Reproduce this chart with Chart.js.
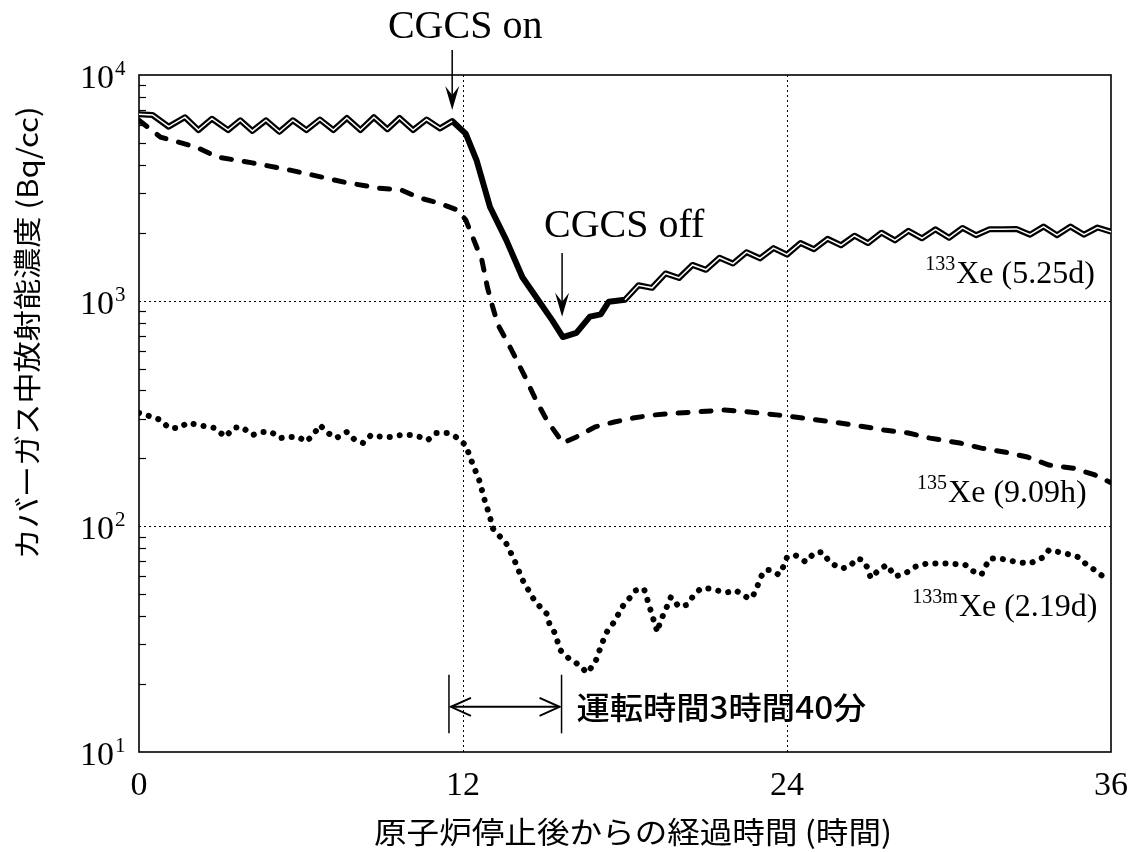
<!DOCTYPE html>
<html>
<head>
<meta charset="utf-8">
<script src="https://cdn.jsdelivr.net/npm/chart.js@4.4.1/dist/chart.umd.min.js"></script>
<style>
  body { margin: 0; background: #fff; }
  #wrap { width: 1128px; height: 852px; }
</style>
</head>
<body>
<div id="wrap"><canvas id="xe-chart" width="1128" height="852"></canvas></div>
<script>
// 133Xe (solid line)
const hours133 = [0, 0.5, 1.1, 1.7, 2.2, 2.7, 3.3, 3.75, 4.2, 4.7, 5.2, 5.7, 6.2, 6.7, 7.2, 7.7, 8.2, 8.7, 9.2, 9.65,
    10.15, 10.65, 11.15, 11.6, 12.1, 12.5, 13.0, 13.6, 14.2, 14.7, 15.3, 15.7, 16.2, 16.7, 17.1, 17.4, 18.0,
    18.5, 19.0, 19.5, 20.0, 20.5, 21.0, 21.5, 22.0, 22.5, 23.0, 23.5, 24.0, 24.5, 25.0, 25.5, 26.0, 26.5, 27.0,
    27.5, 28.0, 28.5, 29.0, 29.5, 30.0, 30.5, 31.0, 31.5, 32.0, 32.5, 33.0, 33.5, 34.0, 34.5, 35.0, 35.5, 36.0];
const xe133 = [6700, 6650, 5900, 6500, 5700, 6400, 5700, 6300, 5650, 6300, 5600, 6300, 5700, 6350, 5700, 6450, 5700, 6500, 5750, 6450,
    5700, 6350, 5800, 6250, 5500, 4200, 2600, 1860, 1270, 1040, 820, 690, 720, 850, 870, 990, 1010,
    1170, 1140, 1320, 1260, 1440, 1370, 1550, 1460, 1640, 1540, 1710, 1600, 1800, 1690, 1880, 1760, 1940, 1800,
    2000, 1850, 2040, 1890, 2070, 1900, 2100, 1950, 2070, 2070, 2080, 1960, 2130, 1950, 2130, 1960, 2110, 2020];

// 135Xe (dashed line)
const hours135 = [0, 0.8, 2.1, 2.9, 4.2, 5.6, 6.9, 7.6, 8.9, 9.7, 10.4, 11.1, 11.8, 12.1, 12.4, 12.7, 12.9, 13.1, 13.3,
    13.8, 14.3, 14.7, 15.1, 15.7, 16.2, 16.9, 17.6, 18.3, 19.0, 19.7, 20.6, 21.7, 22.5, 23.7, 24.6, 25.7, 26.5,
    27.6, 28.5, 29.3, 30.4, 31.2, 32.1, 32.9, 33.7, 34.6, 35.4, 36];
const xe135 = [6300, 5300, 4800, 4330, 4080, 3790, 3500, 3350, 3150, 3100, 2850, 2710, 2520, 2280, 1860, 1510, 1150, 937, 780,
    604, 459, 363, 296, 234, 249, 276, 290, 302, 311, 316, 321, 328, 322, 311, 302, 290, 281,
    267, 259, 246, 234, 222, 213, 203, 187, 181, 169, 156];

// 133mXe (dotted line)
const hours133m = [0, 0.5, 0.8, 1.1, 1.5, 1.8, 2.2, 2.8, 3.2, 3.5, 3.8, 4.2, 4.6, 4.9, 5.2, 5.6, 5.9, 6.2, 6.5, 6.7,
    7.0, 7.3, 7.7, 8.0, 8.3, 8.6, 9.0, 9.3, 9.7, 10.1, 10.4, 10.7, 11.0, 11.4, 11.7, 12.1, 12.3, 12.6, 12.8, 13.0,
    13.1, 13.3, 13.6, 13.9, 14.2, 14.6, 14.85, 15.1, 15.2, 15.4, 15.6, 15.9, 16.3, 16.6, 16.9, 17.1, 17.3, 17.6, 17.9, 18.2,
    18.4, 18.7, 18.8, 19.0, 19.2, 19.3, 19.5, 19.7, 20.0, 20.3, 20.5, 20.8, 21.1, 21.4, 21.8, 22.1, 22.5, 22.7, 22.9, 23.0,
    23.2, 23.4, 23.7, 23.9, 24.0, 24.3, 24.7, 25.0, 25.3, 25.6, 26.0, 26.3, 26.6, 26.8, 27.0, 27.1, 27.4, 27.7, 28.0, 28.4,
    28.7, 29.2, 29.9, 30.6, 30.8, 31.2, 31.5, 31.9, 32.5, 33.0, 33.5, 33.7, 34.3, 34.8, 35.1, 35.4, 35.7, 36];
const xe133m = [318, 305, 296, 273, 273, 288, 281, 273, 249, 273, 276, 254, 262, 262, 246, 249, 249, 237, 259, 281,
    259, 246, 262, 241, 234, 254, 249, 249, 254, 254, 249, 241, 259, 259, 251, 229, 197, 160, 131, 110,
    98, 92, 84, 71, 58, 48, 44, 41, 37, 33.7, 28.3, 26.1, 24.3, 22.4, 25, 29.2, 33.7, 37.7, 44, 48.6,
    52, 53, 48.6, 40.5, 34, 37.7, 42.6, 48.6, 44, 44.9, 48.6, 53, 53, 52, 51, 52, 48.6, 48, 54, 59,
    64, 64, 61, 67.5, 73, 74.6, 69.5, 76, 77, 69, 65, 66, 72, 71, 65, 59, 64, 67.5, 60, 62,
    66, 68.5, 68.5, 67.5, 64, 61, 72, 72, 69.5, 68.5, 73, 78.5, 76, 73, 67.5, 64, 60, 60];

// axes and texts
const xTicks = [0, 12, 24, 36];
const yDecades = [1, 2, 3, 4];
const seriesMass = ['133', '135', '133m'];
const seriesText = ['Xe (5.25d)', 'Xe (9.09h)', 'Xe (2.19d)'];
const xTitle = '原子炉停止後からの経過時間 (時間)';
const yTitle = 'カバーガス中放射能濃度 (Bq/cc)';
const runLabel = '運転時間3時間40分';
const onLabel = 'CGCS on';
const offLabel = 'CGCS off';

const serif = '"Liberation Serif", "Times New Roman", serif';
const gothic = '"Noto Sans CJK JP", "Noto Sans CJK SC", sans-serif';

function toPoints(xs, ys) {
    return xs.map((x, i) => ({ x: x, y: ys[i] }));
}

function strokeLine(ctx, x1, y1, x2, y2) {
    ctx.beginPath();
    ctx.moveTo(x1, y1);
    ctx.lineTo(x2, y2);
    ctx.stroke();
}

// text squeezed/stretched to a given length
function fitText(ctx, str, x, y, width, font, angle) {
    ctx.save();
    ctx.font = font;
    const w = ctx.measureText(str).width;
    ctx.translate(x, y);
    if (angle) ctx.rotate(angle);
    ctx.scale(width / w, 1);
    ctx.textAlign = 'center';
    ctx.textBaseline = 'middle';
    ctx.fillText(str, 0, 0);
    ctx.restore();
}

function downArrow(ctx, px, top, tip) {
    ctx.lineWidth = 1.5;
    strokeLine(ctx, px, top, px, tip - 10);
    ctx.beginPath();
    ctx.moveTo(px, tip);
    ctx.lineTo(px - 7, tip - 24);
    ctx.lineTo(px, tip - 15);
    ctx.lineTo(px + 7, tip - 24);
    ctx.closePath();
    ctx.fill();
}

function isotope(ctx, mass, name, right, base) {
    ctx.textAlign = 'right';
    ctx.textBaseline = 'alphabetic';
    ctx.font = '32px ' + serif;
    ctx.fillText(name, right, base);
    const w = ctx.measureText(name).width;
    ctx.font = '20px ' + serif;
    ctx.fillText(mass, right - w - 1, base - 13);
}

const frame = {
    id: 'frame',
    beforeDatasetsDraw(chart) {
        const { ctx, chartArea: a, scales: { x, y } } = chart;
        ctx.save();
        ctx.strokeStyle = '#000';
        ctx.lineWidth = 1;
        ctx.setLineDash([2, 3]);
        xTicks.slice(1, -1).forEach(v => {
            const px = Math.round(x.getPixelForValue(v)) + 0.5;
            strokeLine(ctx, px, a.top, px, a.bottom);
        });
        yDecades.slice(1, -1).forEach(d => {
            const py = Math.round(y.getPixelForValue(Math.pow(10, d))) + 0.5;
            strokeLine(ctx, a.left, py, a.right, py);
        });
        ctx.setLineDash([]);
        // minor ticks on the log axis
        ctx.lineWidth = 1.2;
        yDecades.slice(0, -1).forEach(d => {
            for (let m = 2; m <= 9; m++) {
                const py = Math.round(y.getPixelForValue(m * Math.pow(10, d))) + 0.5;
                strokeLine(ctx, a.left, py, a.left + 7, py);
            }
        });
        ctx.lineWidth = 1.6;
        ctx.strokeRect(a.left, a.top, a.right - a.left, a.bottom - a.top);
        ctx.restore();
    },
    afterDraw(chart) {
        const { ctx, chartArea: a, scales: { x, y } } = chart;
        ctx.save();
        ctx.fillStyle = '#000';
        ctx.strokeStyle = '#000';

        // tick labels
        ctx.font = '34px ' + serif;
        ctx.textAlign = 'center';
        ctx.textBaseline = 'alphabetic';
        xTicks.forEach(v => ctx.fillText(String(v), x.getPixelForValue(v), a.bottom + 43));
        yDecades.forEach(d => {
            const py = y.getPixelForValue(Math.pow(10, d));
            ctx.font = '34px ' + serif;
            ctx.textAlign = 'right';
            ctx.fillText('10', a.left - 25, py + 13);
            ctx.font = '21px ' + serif;
            ctx.textAlign = 'left';
            ctx.fillText(String(d), a.left - 24, py);
        });

        // axis titles
        fitText(ctx, xTitle, (a.left + a.right) / 2 + 8, a.bottom + 80, 518, '30px ' + gothic);
        fitText(ctx, yTitle, 27, 333, 453, '28px ' + gothic, -Math.PI / 2);

        // CGCS on / off
        ctx.font = '40px ' + serif;
        ctx.textAlign = 'left';
        ctx.fillText(onLabel, x.getPixelForValue(9.22), y.getPixelForValue(14600));
        ctx.fillText(offLabel, x.getPixelForValue(15.0), y.getPixelForValue(1915));
        downArrow(ctx, x.getPixelForValue(11.6), y.getPixelForValue(12900), y.getPixelForValue(7000));
        downArrow(ctx, x.getPixelForValue(15.67), y.getPixelForValue(1626), y.getPixelForValue(848));

        // series labels
        isotope(ctx, seriesMass[0], seriesText[0], x.getPixelForValue(35.4), y.getPixelForValue(1200));
        isotope(ctx, seriesMass[1], seriesText[1], x.getPixelForValue(35.1), y.getPixelForValue(128));
        isotope(ctx, seriesMass[2], seriesText[2], x.getPixelForValue(35.5), y.getPixelForValue(40));

        // operating time bar
        const x1 = x.getPixelForValue(11.48), x2 = x.getPixelForValue(15.65);
        const yTop = y.getPixelForValue(22), yBot = y.getPixelForValue(12.1), yMid = y.getPixelForValue(15.85);
        ctx.lineWidth = 1.5;
        strokeLine(ctx, x1, yTop, x1, yBot);
        strokeLine(ctx, x2, yTop, x2, yBot);
        ctx.lineWidth = 2;
        strokeLine(ctx, x1 + 2, yMid, x2 - 2, yMid);
        ctx.beginPath();
        ctx.moveTo(x1 + 22, yMid - 9); ctx.lineTo(x1 + 2, yMid); ctx.lineTo(x1 + 22, yMid + 9);
        ctx.moveTo(x2 - 22, yMid - 9); ctx.lineTo(x2 - 2, yMid); ctx.lineTo(x2 - 22, yMid + 9);
        ctx.stroke();
        fitText(ctx, runLabel, x.getPixelForValue(16.2) + 145, yMid, 290, '500 31px ' + gothic);
        ctx.restore();
    }
};

const chartCanvas = document.querySelector('#xe-chart');

const chartData = {
    datasets: [{
        // white core of the double-stroked 133Xe line
        data: toPoints(hours133, xe133),
        borderColor: '#fff',
        borderWidth: 1.5,
        order: 0,
        segment: {
            borderColor: ctx => (ctx.p0.parsed.x >= 11.6 && ctx.p1.parsed.x <= 18.0) ? 'rgba(0,0,0,0)' : undefined
        }
    }, {
        data: toPoints(hours133, xe133),
        borderColor: '#000',
        borderWidth: 6,
        borderJoinStyle: 'round',
        order: 1
    }, {
        data: toPoints(hours135, xe135),
        borderColor: '#000',
        borderWidth: 5,
        borderDash: [10, 13],
        borderCapStyle: 'round',
        order: 2
    }, {
        data: toPoints(hours133m, xe133m),
        borderColor: '#000',
        borderWidth: 6,
        borderDash: [0.1, 10],
        borderCapStyle: 'round',
        order: 3
    }]
};

const chartOptions = {
    responsive: false,
    animation: false,
    layout: {
        padding: { left: 139, right: 17, top: 75, bottom: 100 }
    },
    elements: {
        point: { radius: 0 },
        line: { tension: 0, fill: false }
    },
    scales: {
        x: { type: 'linear', min: 0, max: 36, display: false },
        y: { type: 'logarithmic', min: 10, max: 10000, display: false }
    },
    plugins: {
        legend: { display: false },
        tooltip: { enabled: false }
    }
};

new Chart(chartCanvas, {
    type: 'line',
    data: chartData,
    options: chartOptions,
    plugins: [frame]
});
</script>
</body>
</html>
